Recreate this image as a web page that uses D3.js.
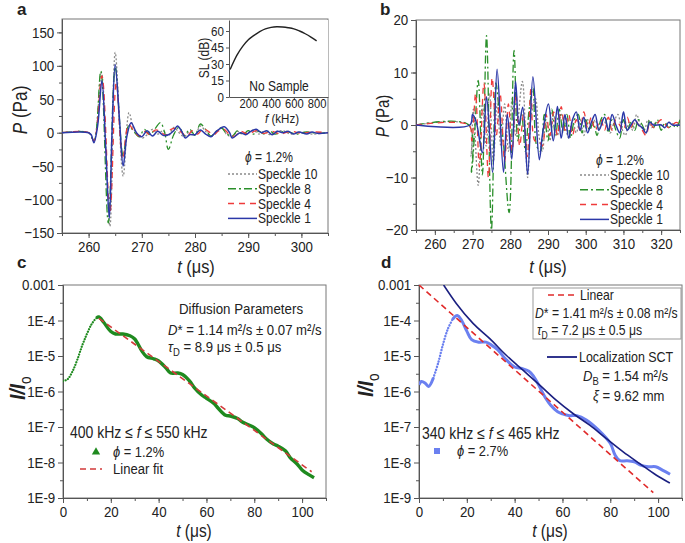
<!DOCTYPE html>
<html>
<head>
<meta charset="utf-8">
<title>Speckle waveforms and intensity decay</title>
<script src="https://cdn.jsdelivr.net/npm/d3@7"></script>
<style>
  body { margin: 0; background: #fff; }
  svg text { font-family: "Liberation Sans", Arial, sans-serif; fill: #222; }
  .axis path, .axis line { stroke: #555; }
  .axis text { fill: #222; font-family: "Liberation Sans", Arial, sans-serif; }
</style>
</head>
<body>
<svg id="chart" width="685" height="543"></svg>
<script>
// ---- panel a : waveforms, phi = 1.2% ([t (us), P (Pa)])
const aSpeckle1 = [[255,0],[260,0],[260.5,-3],[261,-15],[261.7,10],[262.5,78],[263.2,-20],[263.9,-128],[264.4,0],[265,102],[265.8,20],[266.5,-50],[267.2,-5],[268,15],[269,0],[270,-6],[271,3],[272,-5],[273,2],[274,-4],[275,-3],[276,3],[276.7,10],[277.5,2],[278.2,-8],[279,-3],[280,-3],[281,4],[282,-2],[283,-6],[284,2],[285.5,9],[286.5,0],[287,-8],[288.5,0],[289.5,-3],[290.5,2],[291.5,5],[292.5,0],[293.5,3],[294.5,-3],[295.5,2],[296.5,0],[297.5,2],[298.5,-2],[299.5,1],[301,-2],[302,1],[303,-1],[305,0]];
const aSpeckle4 = [[255,0],[260,0],[261,-12],[262.5,85],[264,-120],[265.2,75],[266.4,-40],[267.5,12],[268.5,3],[269.5,-5],[270.5,2],[271.5,-3],[272.5,4],[273.5,2],[274.5,-4],[275.5,5],[276.5,6],[277.5,0],[278.5,-5],[279.5,3],[280.5,-2],[281.5,6],[282.5,2],[283.5,-3],[284.5,3],[285.5,5],[286.5,-3],[287.5,-5],[288.5,2],[290,-2],[291.5,3],[293,-1],[294.5,2],[296,-2],[298,2],[300,-1],[302,1],[305,0]];
const aSpeckle8 = [[255,0],[260,0],[261,-12],[262.3,92],[263.7,-135],[265,98],[266.5,-35],[267.5,10],[268.5,2],[269.5,-6],[270.5,5],[271.5,-3],[272.5,6],[273.5,15],[274.3,0],[275,-25],[276,-3],[277,8],[278,-4],[279,5],[280,-4],[281,13],[282,5],[283,-5],[284,2],[285,7],[286,-2],[287,-5],[288,3],[289,-3],[290,3],[291,-2],[292,2],[293,-2],[294,3],[295,-2],[297,2],[299,-2],[301,1],[303,-1],[305,0]];
const aSpeckle10 = [[255,0],[260,0],[261,-12],[262.4,90],[264,-140],[265,120],[266.5,-65],[267.6,30],[268.5,5],[270,-8],[271,-3],[272,5],[273,-2],[274,3],[275,-5],[276,8],[277,0],[278,-6],[279,2],[280,-4],[281,10],[282,2],[283,-5],[284,0],[285,8],[286,-3],[287,-6],[288,2],[289,-2],[290,0],[291,4],[292,-2],[293,2],[294,-3],[295,1],[296.5,3],[298,-2],[300,1],[302,-2],[305,0]];

// inset: source level without sample ([f (kHz), SL (dB)])
const insetSL = [[40,25],[100,38],[150,46],[200,52],[250,56],[300,59.5],[350,62],[400,63.3],[450,63.8],[500,63.6],[550,63],[600,62],[650,60],[700,57.5],[750,54.5],[800,51]];

// ---- panel b : waveforms, phi = 1.2%
const bSpeckle1 = [[255,0],[269.3,0],[270,2],[271,0.5],[272.6,-5.3],[273.7,5.4],[275.3,-9],[276.5,10.6],[278.2,-9],[279.2,2],[280.4,-6.5],[281.4,8.3],[282.3,0],[283.3,3.4],[284.6,-9.4],[286,9.2],[287.7,-6.6],[288.5,-2],[290.1,4],[291.4,-3],[292.5,3.5],[293.5,-2.5],[294.5,2],[295.5,-2.5],[296.5,1],[297.5,2.5],[298.5,-1],[299.5,1.5],[300.5,-1.5],[301.5,0.5],[302.5,2],[303.5,-1],[305,1.5],[306,-1],[307,2],[308,0],[309,-1.5],[310,2.5],[311,-1],[312,0],[313,1],[314,0],[315,-0.5],[316,-1.5],[317,0.5],[318,0],[320,0],[321,-0.5],[322,0.5],[323,0],[325,0]];
const bSpeckle4 = [[255,0],[269,0],[269.8,-3],[270.8,6],[271.8,-8],[273,8],[274.2,-10],[275.2,9],[276.3,-2],[277.3,6],[278.5,-7],[279.5,4],[280.5,-5],[281.5,6],[282.5,-4],[283.5,2],[284.5,-6],[285.5,7],[286.5,-3],[287.5,-3],[288.5,-4],[289.5,2],[290.5,-2],[291.5,2.5],[292.5,-2],[293.5,3.5],[294.5,-1],[295.5,2],[296.5,-2],[297.5,1],[298.5,-1],[299.5,2.5],[300.5,-0.5],[301.5,1.5],[302.5,-1],[304,1],[305,-1],[306,1.5],[307,-1],[308,1],[309,0],[310,-1],[311,1.5],[312,-0.5],[313,1],[314,0],[315,-1],[316,-2],[317,0.5],[318,-0.5],[320,1],[322,-0.5],[324,0.5],[325,0]];
const bSpeckle8 = [[255,0],[269,0],[269.7,-9],[270.5,-2],[271.5,8.5],[272.6,-9.5],[273.7,17],[275,-20],[276.2,8],[277,3],[278,-2],[279.7,-16.7],[281,14.2],[282,-3],[283,2],[284,-5],[285,3],[286,7],[287,-4],[288,-5],[289,2],[290,-3],[291,3],[292,-2],[293,3],[294,-1.5],[295,2],[296,-2.5],[297,1],[298,2],[299,-1.5],[300,1],[301,-1],[302,0.5],[303,-2],[304,1],[305,2],[306,-1.5],[307,1],[308,-1],[309,-2.5],[310,1],[311,-1],[312,0.5],[313,-1],[314,1],[315,0],[316,-1.5],[317,1],[318,-0.5],[319,1],[320,-1],[321,0.5],[322,-0.5],[323,0],[324,-0.5],[325,1]];
const bSpeckle10 = [[255,0],[269,0],[269.6,-6],[270.2,3],[271.5,-11.5],[272.6,4],[273.6,-4],[274.5,6],[275.5,-7],[276.5,4],[277.5,-4],[278.5,4],[279.5,-5],[280.5,5],[281.5,-2],[283.2,8.3],[284.6,-10],[285.6,2],[286.7,5],[287.6,-2],[288.5,-5],[289.5,1],[290.5,-3],[291.5,2],[292.5,-2],[293.5,2],[294.5,0],[295.5,-2.5],[296.5,1],[297.5,-1.5],[298.5,1],[299.5,-2],[300.5,1],[301.5,-0.5],[302.5,1],[303.5,-1],[304.5,1],[305.5,0],[306.5,-1.5],[307.5,0.5],[308.5,2],[309.5,-0.5],[310.5,-2],[311.5,0.5],[312.5,-1],[313.5,2],[314.5,0],[315.5,-1],[316.5,1],[317.5,-0.5],[318.5,0.5],[320,0],[321,-0.5],[322,0.5],[324,0],[325,0.5]];

// ---- panel c : I/Io, 400-550 kHz ([t (us), log10 I/Io])
const cMeasured = [[0,-5.71],[2,-5.65],[4,-5.43],[6,-5.1],[8,-4.71],[10,-4.38],[12,-4.1],[14,-3.93],[15,-3.9],[17,-4.05],[20,-4.31],[22,-4.38],[25,-4.38],[28,-4.43],[30,-4.52],[33,-4.86],[35,-5.02],[38,-5.08],[40,-5.14],[43,-5.33],[45,-5.48],[48,-5.48],[50,-5.52],[53,-5.71],[55,-5.9],[58,-6.1],[60,-6.19],[63,-6.33],[65,-6.48],[68,-6.67],[70,-6.69],[73,-6.76],[75,-6.86],[78,-6.95],[80,-7.02],[83,-7.19],[85,-7.33],[88,-7.48],[90,-7.54],[93,-7.67],[95,-7.86],[98,-8.05],[100,-8.21],[103,-8.35],[105,-8.43]];
const cLinearFit = [[15,-3.94],[104,-8.26]];

// ---- panel d : I/Io, 340-465 kHz
const dMeasured = [[0,-5.81],[1,-5.72],[2.5,-5.76],[4,-5.86],[6,-5.62],[8,-5.2],[10,-4.68],[12,-4.25],[14,-3.97],[16,-3.86],[18,-4.02],[20,-4.3],[22,-4.54],[25,-4.61],[28,-4.61],[30,-4.68],[33,-4.83],[36,-5.07],[40,-5.31],[43,-5.35],[46,-5.43],[48,-5.58],[50,-5.81],[53,-6.19],[55,-6.38],[58,-6.57],[60,-6.63],[63,-6.68],[66,-6.68],[70,-6.8],[75,-7.08],[80,-7.46],[82,-7.79],[84,-7.95],[87,-7.95],[90,-7.98],[93,-8.08],[96,-8.12],[99,-8.12],[102,-8.22],[105,-8.33]];
const dLinear = [[0,-3],[98,-8.85]];
const dLocalization = [[10.3,-3],[15.6,-3.52],[22.6,-4.08],[29.6,-4.51],[36.5,-4.98],[43.5,-5.4],[50.5,-5.82],[57.5,-6.25],[64.4,-6.62],[71.4,-6.95],[78.4,-7.33],[85.4,-7.7],[92.3,-8.03],[99.3,-8.36],[104.9,-8.58]];

// ticks
const aXTicks = [260, 270, 280, 290, 300];
const aYTicks = [-150, -100, -50, 0, 50, 100, 150];
const bXTicks = [260, 270, 280, 290, 300, 310, 320];
const bYTicks = [-20, -10, 0, 10, 20];
const cdXTicks = [0, 20, 40, 60, 80, 100];
const logTicks = [1e-9, 1e-8, 1e-7, 1e-6, 1e-5, 1e-4, 1e-3];
const insetXTicks = [200, 400, 600, 800];
const insetYTicks = [0, 15, 30, 45, 60];

const colGray = "#8a8a8a", colGreen = "#2a8f2a", colRed = "#ef3b3b", colBlue = "#2b38a8";
const SX = 0.86; // the figure's lettering is a bit condensed

const svg = d3.select("#chart");
const defs = svg.append("defs");

function logFmt(d) {
  return d === 1e-3 ? "0.001" : "1E" + Math.round(Math.log10(d));
}

// text with italic / subscript pieces, squeezed horizontally
function rich(parent, x, y, parts, size, anchor, rot) {
  const g = parent.append("g")
    .attr("transform", `translate(${x},${y})${rot ? " rotate(-90)" : ""} scale(${SX},1)`);
  const t = g.append("text").style("font-size", size + "px").attr("text-anchor", anchor || "start");
  let shift = 0;
  parts.forEach(function(p) {
    const s = t.append("tspan").text(p[0]);
    const k = p[1] || "";
    if (k.indexOf("it") >= 0) s.style("font-style", "italic");
    if (k.indexOf("b") === 0) s.style("font-weight", "bold");
    const want = k.indexOf("sub") >= 0 ? Math.round(size * 0.28) : 0;
    if (want !== shift) { s.attr("dy", want - shift); shift = want; }
    if (want) s.style("font-size", Math.round(size * 0.72) + "px");
  });
  return t;
}

function squeeze(sel, size) {
  sel.selectAll(".tick text").style("font-size", size + "px").attr("transform", `scale(${SX},1)`);
}

function frame(id, x, y, xt, xm, yt, ym, yFmt) {
  const g = svg.append("g");
  const [x0, x1] = x.range(), [y0, y1] = y.range();
  defs.append("clipPath").attr("id", id).append("rect")
    .attr("x", x0).attr("y", y1).attr("width", x1 - x0).attr("height", y0 - y1);
  g.append("rect").attr("x", x0).attr("y", y1).attr("width", x1 - x0).attr("height", y0 - y1)
    .attr("fill", "none").attr("stroke", "#777");
  g.append("g").attr("class", "axis").attr("transform", `translate(0,${y0})`)
    .call(d3.axisBottom(x).tickValues(xm).tickSize(3).tickSizeOuter(0).tickFormat(""));
  g.append("g").attr("class", "axis").attr("transform", `translate(0,${y0})`)
    .call(d3.axisBottom(x).tickValues(xt).tickSize(5).tickSizeOuter(0).tickPadding(3))
    .call(squeeze, 15.5);
  g.append("g").attr("class", "axis").attr("transform", `translate(${x0},0)`)
    .call(d3.axisLeft(y).tickValues(ym).tickSize(3).tickSizeOuter(0).tickFormat(""));
  g.append("g").attr("class", "axis").attr("transform", `translate(${x0},0)`)
    .call(d3.axisLeft(y).tickValues(yt).tickSize(5).tickSizeOuter(0).tickPadding(4).tickFormat(yFmt || d3.format("d")))
    .call(squeeze, 15.5);
  g.selectAll(".domain").attr("stroke", "#666");
  return svg.append("g").attr("clip-path", `url(#${id})`);
}

function series(g, data, line, color, width, dash) {
  g.append("path").datum(data).attr("d", line)
    .attr("fill", "none").attr("stroke", color).attr("stroke-width", width)
    .attr("stroke-dasharray", dash || null).attr("stroke-linecap", dash && dash.startsWith("0") ? "round" : "butt");
}

function speckleLegend(x, y) {
  const items = [["Speckle 10", colGray, "2,2"], ["Speckle 8", colGreen, "8,3,2,3"], ["Speckle 4", colRed, "6,5"], ["Speckle 1", colBlue, null]];
  items.forEach(function(it, i) {
    const yy = y + i * 14.8;
    svg.append("line").attr("x1", x).attr("x2", x + 29).attr("y1", yy).attr("y2", yy)
      .attr("stroke", it[1]).attr("stroke-width", 1.5).attr("stroke-dasharray", it[2]);
    rich(svg, x + 30, yy + 5, [[it[0]]], 14);
  });
}

// ================= panel a
const ax = d3.scaleLinear().domain([255, 305]).range([62, 328]);
const ay = d3.scaleLinear().domain([-150, 170]).range([233, 19]);
const aG = frame("clipA", ax, ay, aXTicks, d3.range(255, 306, 5), aYTicks, d3.range(-150, 170, 25));
const aLine = d3.line().x(d => ax(d[0])).y(d => ay(d[1])).curve(d3.curveCatmullRom);
series(aG, aSpeckle10, aLine, colGray, 1.3, "2,2");
series(aG, aSpeckle8, aLine, colGreen, 1.3, "8,3,2,3");
series(aG, aSpeckle4, aLine, colRed, 1.3, "6,5");
series(aG, aSpeckle1, aLine, colBlue, 1.5);
rich(svg, 27, 110, [["P", "it"], [" (Pa)"]], 20, "middle", true);
rich(svg, 196, 273, [["t", "it"], [" (μs)"]], 19, "middle");
rich(svg, 269, 162, [["ϕ", "it"], [" = 1.2%"]], 14, "middle");
speckleLegend(228, 174);

// inset
const ix = d3.scaleLinear().domain([30, 900]).range([229, 328]);
const iy = d3.scaleLinear().domain([0, 70]).range([97, 20]);
const inset = svg.append("g");
inset.append("rect").attr("x", 229).attr("y", 20).attr("width", 99).attr("height", 77).attr("fill", "#fff");
inset.append("g").attr("class", "axis").attr("transform", "translate(0,97)")
  .call(d3.axisBottom(ix).tickValues(insetXTicks).tickSize(3).tickSizeOuter(0).tickPadding(-1))
  .call(squeeze, 13);
inset.append("g").attr("class", "axis").attr("transform", "translate(229,0)")
  .call(d3.axisLeft(iy).tickValues(insetYTicks).tickSize(3).tickSizeOuter(0).tickPadding(3))
  .call(squeeze, 13.5);
inset.append("path").datum(insetSL)
  .attr("d", d3.line().x(d => ix(d[0])).y(d => iy(d[1])).curve(d3.curveCatmullRom))
  .attr("fill", "none").attr("stroke", "#222").attr("stroke-width", 1.4);
rich(inset, 279, 91, [["No Sample"]], 14, "middle");
rich(inset, 282, 122.5, [["f", "it"], [" (kHz)"]], 13.5, "middle");
rich(inset, 209, 58, [["SL (dB)"]], 14, "middle", true);

// ================= panel b
const bx = d3.scaleLinear().domain([255, 325]).range([416, 680]);
const by = d3.scaleLinear().domain([-20, 20]).range([230, 20]);
const bG = frame("clipB", bx, by, bXTicks, d3.range(255, 326, 5), bYTicks, d3.range(-20, 21, 5));
const bLine = d3.line().x(d => bx(d[0])).y(d => by(d[1])).curve(d3.curveCatmullRom);
series(bG, bSpeckle10, bLine, colGray, 1.3, "2,2");
series(bG, bSpeckle8, bLine, colGreen, 1.3, "8,3,2,3");
series(bG, bSpeckle4, bLine, colRed, 1.3, "6,5");
series(bG, bSpeckle1, bLine, colBlue, 1.5);
rich(svg, 389, 116, [["P", "it"], [" (Pa)"]], 17.5, "middle", true);
rich(svg, 548, 273, [["t", "it"], [" (μs)"]], 19, "middle");
rich(svg, 620, 165, [["ϕ", "it"], [" = 1.2%"]], 14, "middle");
speckleLegend(580, 175);

// ================= panel c
const cx = d3.scaleLinear().domain([0, 110]).range([63, 326]);
const cy = d3.scaleLog().domain([1e-9, 1e-3]).range([498, 285]);
const logMinor = logTicks.slice(0, -1).map(d => d * Math.sqrt(10));
const cG = frame("clipC", cx, cy, cdXTicks, d3.range(0, 111, 10), logTicks, logMinor, logFmt);
const cLine = d3.line().x(d => cx(d[0])).y(d => cy(Math.pow(10, d[1]))).curve(d3.curveCatmullRom);
series(cG, cMeasured.filter(d => d[0] <= 15), cLine, "#1f8a1f", 2.2, "0.1,2.6");
series(cG, cMeasured.filter(d => d[0] >= 14), cLine, "#1f8a1f", 3.4);
series(cG, cLinearFit, cLine, "#d23a3a", 1.6, "6,4");
rich(svg, 25, 388, [["I/I", "bit"], ["o", "sub"]], 22, "middle", true);
rich(svg, 194, 537, [["t", "it"], [" (μs)"]], 18, "middle");
rich(svg, 241, 314, [["Diffusion Parameters"]], 15.5, "middle");
rich(svg, 168, 335, [["D", "it"], ["* = 1.14 m²/s ± 0.07 m²/s"]], 15.3);
rich(svg, 168, 352, [["τ", "it"], ["D", "sub"], [" = 8.9 μs ± 0.5 μs"]], 15.3);
rich(svg, 70, 438, [["400 kHz ≤ "], ["f", "it"], [" ≤ 550 kHz"]], 16.3);
svg.append("path").attr("d", d3.symbol(d3.symbolTriangle, 30)())
  .attr("transform", "translate(96,452)").attr("fill", "#1f8a1f");
rich(svg, 113, 457, [["ϕ", "it"], [" = 1.2%"]], 15);
svg.append("line").attr("x1", 80).attr("x2", 102).attr("y1", 469).attr("y2", 469)
  .attr("stroke", "#d23a3a").attr("stroke-width", 1.6).attr("stroke-dasharray", "6,4");
rich(svg, 113, 474, [["Linear fit"]], 15.2);

// ================= panel d
const dx = d3.scaleLinear().domain([0, 110]).range([419, 682]);
const dy = d3.scaleLog().domain([1e-9, 1e-3]).range([498, 285]);
const dG = frame("clipD", dx, dy, cdXTicks, d3.range(0, 111, 10), logTicks, logMinor, logFmt);
const dLine = d3.line().x(d => dx(d[0])).y(d => dy(Math.pow(10, d[1]))).curve(d3.curveCatmullRom);
const colLight = "#6b80f0";
series(dG, dMeasured.filter(d => d[0] <= 6), dLine, colLight, 3);
series(dG, dMeasured.filter(d => d[0] >= 6 && d[0] <= 14), dLine, colLight, 2.4, "0.1,2.8");
series(dG, dMeasured.filter(d => d[0] >= 14), dLine, colLight, 3);
series(dG, dLinear, dLine, "#e02a2a", 1.6, "6,4");
series(dG, dLocalization, dLine.curve(d3.curveMonotoneX), "#1a1f80", 1.6);
rich(svg, 373, 385, [["I/I", "bit"], ["o", "sub"]], 22, "middle", true);
rich(svg, 550, 537, [["t", "it"], [" (μs)"]], 18, "middle");
svg.append("rect").attr("x", 533).attr("y", 288).attr("width", 148).attr("height", 51)
  .attr("fill", "#fff").attr("stroke", "#999");
svg.append("line").attr("x1", 548).attr("x2", 576).attr("y1", 295).attr("y2", 295)
  .attr("stroke", "#e02a2a").attr("stroke-width", 1.6).attr("stroke-dasharray", "6,4");
rich(svg, 580, 300, [["Linear"]], 14.2);
rich(svg, 535, 318, [["D", "it"], ["* = 1.41 m²/s ± 0.08 m²/s"]], 14.2);
rich(svg, 537, 335, [["τ", "it"], ["D", "sub"], [" = 7.2 μs ± 0.5 μs"]], 14.2);
svg.append("line").attr("x1", 547).attr("x2", 577).attr("y1", 357).attr("y2", 357)
  .attr("stroke", "#1a1f80").attr("stroke-width", 1.8);
rich(svg, 579, 362, [["Localization SCT"]], 14.5);
rich(svg, 583, 381, [["D", "it"], ["B", "sub"], [" = 1.54 m²/s"]], 15.2);
rich(svg, 593, 401, [["ξ", "it"], [" = 9.62 mm"]], 15.2);
rich(svg, 422, 439, [["340 kHz ≤ "], ["f", "it"], [" ≤ 465 kHz"]], 16.3);
svg.append("rect").attr("x", 434).attr("y", 448).attr("width", 6).attr("height", 6).attr("fill", colLight);
rich(svg, 457, 456, [["ϕ", "it"], [" = 2.7%"]], 15);

// panel letters
[["a", 17, 15], ["b", 380, 15], ["c", 17, 268], ["d", 381, 268]].forEach(function(p) {
  svg.append("text").attr("x", p[1]).attr("y", p[2]).text(p[0])
    .style("font-size", "17px").style("font-weight", "bold");
});
</script>
</body>
</html>
